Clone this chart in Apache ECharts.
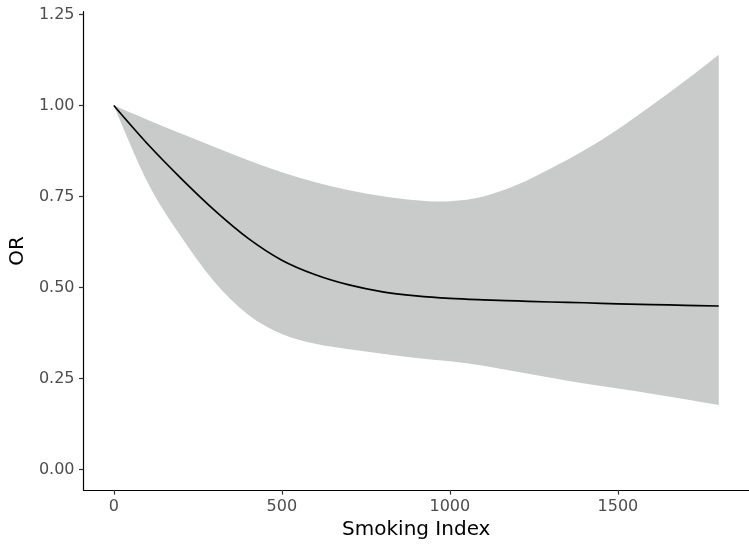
<!DOCTYPE html>
<html>
<head>
<meta charset="utf-8">
<script src="https://cdn.jsdelivr.net/npm/echarts@6/dist/echarts.min.js"></script>
<style>html,body{margin:0;padding:0;background:#fff}#c{width:749px;height:545px}</style>
</head>
<body>
<div id="c"></div>
<script>
// Data
const smokingIndex = [0, 100, 200, 300, 400, 500, 600, 700, 800, 900, 1000, 1100, 1200, 1300, 1400, 1500, 1600, 1700, 1800];
const orValues     = [1.00, 0.895, 0.80, 0.712, 0.635, 0.575, 0.535, 0.507, 0.488, 0.477, 0.47, 0.466, 0.463, 0.46, 0.458, 0.455, 0.453, 0.451, 0.449];
const lowerCI      = [1.00, 0.79, 0.64, 0.515, 0.425, 0.372, 0.345, 0.33, 0.318, 0.306, 0.297, 0.285, 0.268, 0.252, 0.236, 0.222, 0.208, 0.193, 0.177];
const upperCI      = [1.00, 0.961, 0.923, 0.886, 0.85, 0.817, 0.789, 0.767, 0.751, 0.740, 0.737, 0.750, 0.782, 0.827, 0.877, 0.935, 1.00, 1.068, 1.14];
const xTicks = [0, 500, 1000, 1500];
const yTicks = [0, 0.25, 0.5, 0.75, 1.0, 1.25];

// Catmull-Rom spline through pixel points -> SVG path segments
function splinePath(pts, moveFirst) {
  let d = (moveFirst ? 'M' : 'L') + pts[0][0] + ',' + pts[0][1];
  for (let i = 0; i < pts.length - 1; i++) {
    const p0 = pts[Math.max(i - 1, 0)], p1 = pts[i], p2 = pts[i + 1], p3 = pts[Math.min(i + 2, pts.length - 1)];
    const c1 = [p1[0] + (p2[0] - p0[0]) / 6, p1[1] + (p2[1] - p0[1]) / 6];
    const c2 = [p2[0] - (p3[0] - p1[0]) / 6, p2[1] - (p3[1] - p1[1]) / 6];
    d += 'C' + c1[0] + ',' + c1[1] + ' ' + c2[0] + ',' + c2[1] + ' ' + p2[0] + ',' + p2[1];
  }
  return d;
}

const chart = echarts.init(document.getElementById('c'), null, {renderer: 'canvas'});
const axisCommon = {
  axisLine: {show: true, onZero: false, lineStyle: {color: '#000', width: 1.2}},
  splitLine: {show: false},
  nameTextStyle: {fontFamily: 'DejaVu Sans', fontSize: 20, color: '#000'}
};
const tickStyle = {show: true, length: 4.5, lineStyle: {color: '#333', width: 1.2}};
const labelStyle = {margin: 9, fontFamily: 'DejaVu Sans', fontSize: 16, color: '#4d4d4d'};
chart.setOption({
  animation: false,
  backgroundColor: '#fff',
  grid: {left: 82.5, right: -6, top: 11.7, bottom: 53.3, containLabel: false},
  xAxis: Object.assign({}, axisCommon, {
    type: 'value', min: -90, max: 1890,
    name: 'Smoking Index', nameLocation: 'middle', nameGap: 27,
    axisTick: Object.assign({customValues: xTicks}, tickStyle),
    axisLabel: Object.assign({customValues: xTicks, formatter: v => String(v)}, labelStyle)
  }),
  yAxis: Object.assign({}, axisCommon, {
    type: 'value', min: -0.057, max: 1.258,
    name: 'OR', nameLocation: 'middle', nameGap: 50,
    axisTick: Object.assign({customValues: yTicks}, tickStyle),
    axisLabel: Object.assign({customValues: yTicks, formatter: v => v.toFixed(2)}, labelStyle)
  }),
  series: [
    {type: 'custom', silent: true, z: 1, clip: false,
     data: [[smokingIndex[0], upperCI[0]]],
     renderItem: function (params, api) {
       const up = smokingIndex.map((x, i) => api.coord([x, upperCI[i]]));
       const lo = smokingIndex.map((x, i) => api.coord([x, lowerCI[i]])).reverse();
       const d = splinePath(up, true) + splinePath(lo, false) + 'Z';
       return {type: 'path', shape: {pathData: d}, style: {fill: '#c9caca', stroke: null}};
     }},
    {type: 'custom', silent: true, z: 3, clip: false,
     data: [[smokingIndex[0], orValues[0]]],
     renderItem: function (params, api) {
       const pts = smokingIndex.map((x, i) => api.coord([x, orValues[i]]));
       return {type: 'path', shape: {pathData: splinePath(pts, true)},
               style: {fill: null, stroke: '#000', lineWidth: 1.7}};
     }}
  ]
});
</script>
</body>
</html>
